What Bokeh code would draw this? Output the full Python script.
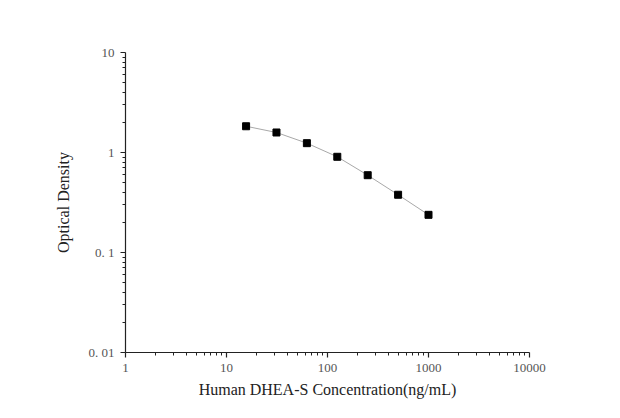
from bokeh.plotting import figure
from bokeh.models import FixedTicker, BoxAnnotation
from bokeh.embed import file_html
from bokeh.resources import INLINE

conc = [15.63, 31.25, 62.5, 125, 250, 500, 1000]
od = [1.83, 1.585, 1.24, 0.906, 0.593, 0.378, 0.238]

x_ticks = [1, 10, 100, 1000, 10000]
x_labels = ["1", "10", "100", "1000", "10000"]
y_ticks = [0.01, 0.1, 1, 10]
y_labels = ["0. 01", "0. 1", "1", "10"]


def minors(majors):
    out = []
    for m in majors[:-1]:
        out += [m * k for k in range(2, 10)]
    return out


W, H = 604, 402
p = figure(width=W, height=H, x_axis_type="log", y_axis_type="log",
           x_range=(1, 10000), y_range=(0.01, 10),
           output_backend="svg", toolbar_location=None,
           min_border_left=125, min_border_right=W - 529,
           min_border_top=52, min_border_bottom=H - 352)
p.outline_line_color = None
p.xgrid.visible = False
p.ygrid.visible = False
p.background_fill_color = "white"
p.border_fill_color = "white"

p.xaxis.ticker = FixedTicker(ticks=x_ticks, minor_ticks=minors(x_ticks))
p.yaxis.ticker = FixedTicker(ticks=y_ticks, minor_ticks=minors(y_ticks))
p.xaxis.major_label_overrides = {t: l for t, l in zip(x_ticks, x_labels)}
p.yaxis.major_label_overrides = {t: l for t, l in zip(y_ticks, y_labels)}

for ax in (p.xaxis, p.yaxis):
    ax.axis_line_color = "#222222"
    ax.axis_line_width = 1.2
    ax.major_tick_line_color = "#222222"
    ax.minor_tick_line_color = "#222222"
    ax.major_tick_line_width = 1.2
    ax.major_tick_out = 5
    ax.major_tick_in = 0
    ax.minor_tick_out = 3
    ax.minor_tick_in = 0
    ax.major_label_text_font = "Liberation Serif"
    ax.major_label_text_font_size = "13px"
    ax.major_label_text_color = "#555555"
    ax.axis_label_text_font = "Liberation Serif"
    ax.axis_label_text_font_size = "16px"
    ax.axis_label_text_font_style = "normal"
    ax.axis_label_text_color = "#222222"

p.xaxis.axis_label = "Human DHEA-S Concentration(ng/mL)"
p.yaxis.axis_label = "Optical Density"
p.xaxis.major_label_standoff = 6
p.yaxis.major_label_standoff = 6
p.xaxis.axis_label_standoff = 6
p.yaxis.axis_label_standoff = 14

p.line(conc, od, line_color="#a8a8a8", line_width=1)
p.scatter(conc, od, marker="square", size=7, fill_color="black", line_color="black")

# page border fragments (left edge and cut-off table row)
for l, r, t, b in [(3, 5, 3, H), (3, W, 3, 5), (119, 121, 0, 4), (266, 268, 0, 4), (414, 416, 0, 4)]:
    p.add_layout(BoxAnnotation(left=l, right=r, top=t, bottom=b,
                               left_units="canvas", right_units="canvas",
                               top_units="canvas", bottom_units="canvas",
                               fill_color="#b8b8b8", fill_alpha=1, line_color=None,
                               level="overlay"))

open("out.html", "w").write(file_html(p, INLINE))
